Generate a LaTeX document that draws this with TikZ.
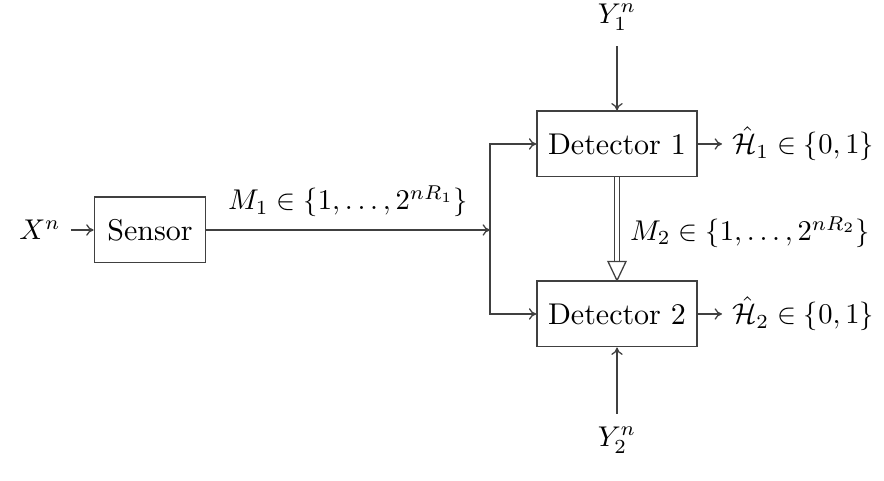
\documentclass[tikz,border=0pt]{standalone}
\usetikzlibrary{arrows.meta}
\begin{document}
\begin{tikzpicture}[x=0.35pt,y=-0.35pt,line width=0.45pt,
  box/.style={draw=black!75, minimum width=56pt, minimum height=23pt, inner sep=0pt, font=\fontsize{10.5}{12}\selectfont},
  ln/.style={draw=black!75},
  arr/.style={ln, -{To[length=2.6pt,width=4pt]}}]
\useasboundingbox (0,0) rectangle (884,481);
\node (x) at (40,230) {$X^n$};
\node[box, minimum width=39pt] (sensor) at (150,230) {Sensor};
\node[box] (d1) at (617,144) {Detector 1};
\node[box] (d2) at (617,314) {Detector 2};
\coordinate (j) at (490,230);
\node (y1) at (617,17) {$Y_1^n$};
\node (y2) at (617,440) {$Y_2^n$};
\node[anchor=west] (h1) at (722,144) {$\hat{\mathcal{H}}_1 \in \{0,1\}$};
\node[anchor=west] (h2) at (722,314) {$\hat{\mathcal{H}}_2 \in \{0,1\}$};
\node[anchor=west] (m2) at (620,232) {$M_2 \in \{1,\ldots,2^{nR_2}\}$};
\draw[arr] (x) -- (sensor);
\draw[arr] (sensor) -- (j) node[midway, above=1pt] {$M_1 \in \{1,\ldots,2^{nR_1}\}$};
\draw[arr] (j) |- (d1);
\draw[arr] (j) |- (d2);
\draw[arr, shorten <=2pt] (y1) -- (d1);
\draw[arr, shorten <=1pt] (y2) -- (d2);
\draw[arr] (d1) -- (h1);
\draw[arr] (d2) -- (h2);
\draw[ln, double, double distance=1.1pt] (d1.south) -- ([yshift=19*0.35pt]d2.north);
\draw[ln, fill=white] (d2.north) -- ++(-9,-19) -- ++(18,0) -- cycle;
\end{tikzpicture}
\end{document}
